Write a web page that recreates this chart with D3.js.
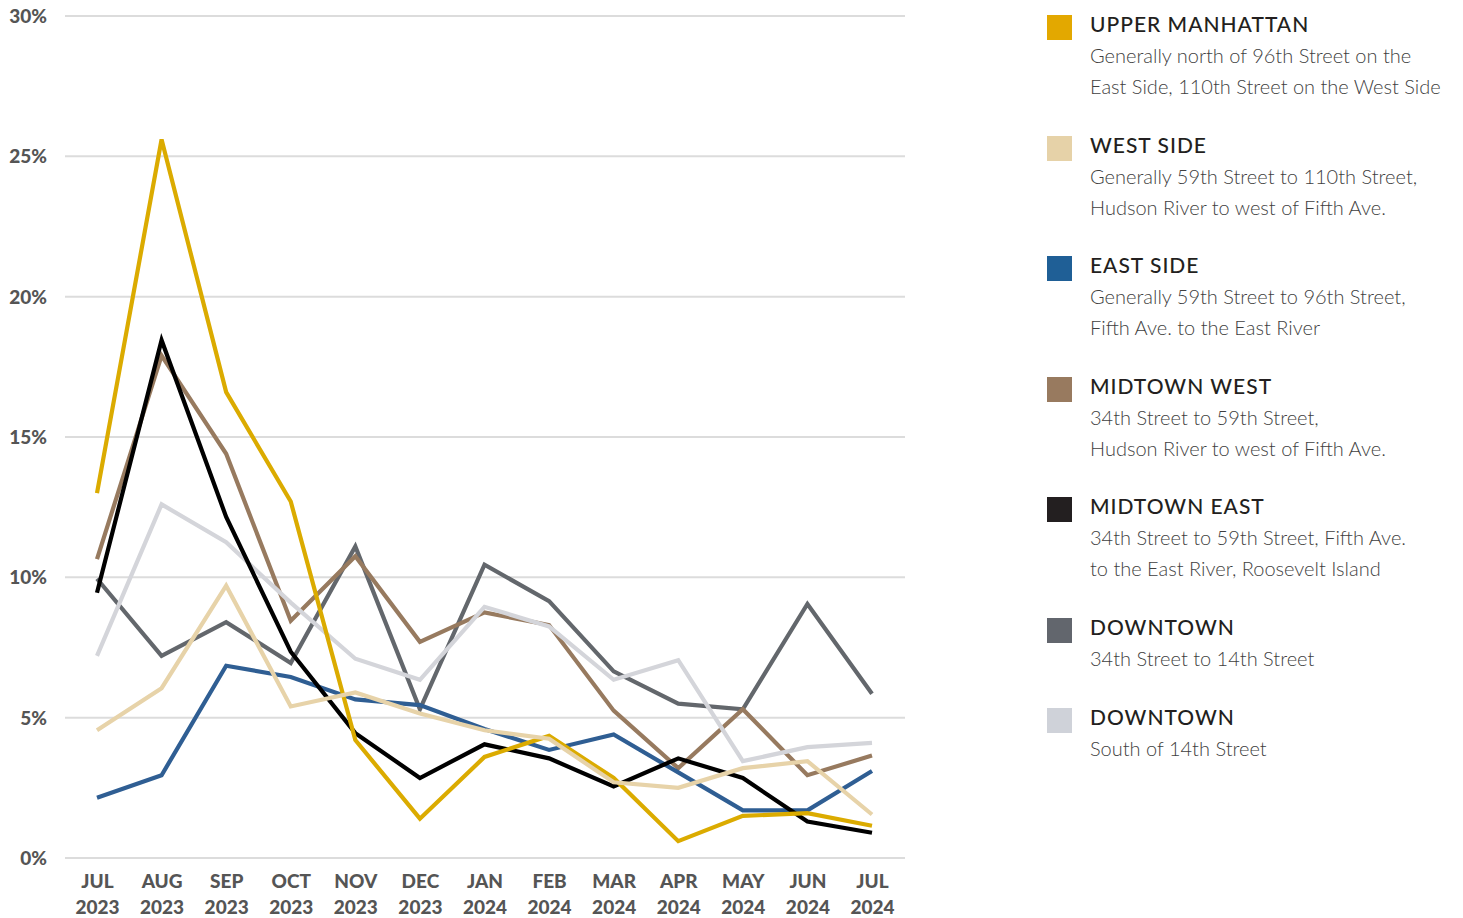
<!DOCTYPE html>
<html>
<head>
<meta charset="utf-8">
<script src="https://cdn.jsdelivr.net/npm/d3@7"></script>
<style>
  body { margin: 0; background: #fff; }
  svg { display: block; }
</style>
</head>
<body>
<script>
// months along the x axis
const months = ['JUL|2023', 'AUG|2023', 'SEP|2023', 'OCT|2023', 'NOV|2023', 'DEC|2023',
                'JAN|2024', 'FEB|2024', 'MAR|2024', 'APR|2024', 'MAY|2024', 'JUN|2024', 'JUL|2024'];

// y ticks (percent)
const yTicks = [0, 5, 10, 15, 20, 25, 30];

// series values (percent)
const upperManhattan = [13.0, 25.6, 16.6, 12.7, 4.2, 1.4, 3.6, 4.35, 2.85, 0.6, 1.5, 1.6, 1.15];
const westSide       = [4.55, 6.05, 9.7, 5.4, 5.9, 5.15, 4.55, 4.25, 2.7, 2.5, 3.2, 3.45, 1.55];
const eastSide       = [2.15, 2.95, 6.85, 6.45, 5.65, 5.45, 4.6, 3.85, 4.4, 3.05, 1.7, 1.7, 3.1];
const midtownWest    = [10.65, 17.9, 14.4, 8.45, 10.75, 7.7, 8.75, 8.3, 5.25, 3.2, 5.3, 2.95, 3.65];
const midtownEast    = [9.45, 18.45, 12.15, 7.35, 4.45, 2.85, 4.05, 3.55, 2.55, 3.55, 2.85, 1.3, 0.9];
const downtown       = [9.95, 7.2, 8.4, 6.95, 11.1, 5.3, 10.45, 9.15, 6.65, 5.5, 5.3, 9.05, 5.85];
const downtownSouth  = [7.2, 12.6, 11.25, 9.1, 7.1, 6.35, 8.95, 8.25, 6.35, 7.05, 3.45, 3.95, 4.1];

// legend entries
const legendTitles = ['UPPER MANHATTAN', 'WEST SIDE', 'EAST SIDE', 'MIDTOWN WEST', 'MIDTOWN EAST', 'DOWNTOWN', 'DOWNTOWN'];
const legendNotes = [
    ['Generally north of 96th Street on the', 'East Side, 110th Street on the West Side'],
    ['Generally 59th Street to 110th Street,', 'Hudson River to west of Fifth Ave.'],
    ['Generally 59th Street to 96th Street,', 'Fifth Ave. to the East River'],
    ['34th Street to 59th Street,', 'Hudson River to west of Fifth Ave.'],
    ['34th Street to 59th Street, Fifth Ave.', 'to the East River, Roosevelt Island'],
    ['34th Street to 14th Street'],
    ['South of 14th Street']
];

const lineColors = ['#dbab00', '#e7d3a9', '#2f5e93', '#977a5f', '#000000', '#63676c', '#d4d5da'];
const swatchColors = ['#e3a800', '#e6d2a8', '#1f5f96', '#987a5f', '#231f20', '#62666d', '#cfd2d9'];

// draw order: back to front
const series = [
    {name: 'downtown', values: downtown, color: lineColors[5]},
    {name: 'midtownWest', values: midtownWest, color: lineColors[3]},
    {name: 'downtownSouth', values: downtownSouth, color: lineColors[6]},
    {name: 'eastSide', values: eastSide, color: lineColors[2]},
    {name: 'midtownEast', values: midtownEast, color: lineColors[4]},
    {name: 'upperManhattan', values: upperManhattan, color: lineColors[0]},
    {name: 'westSide', values: westSide, color: lineColors[1]}
];

const svgWidth = 1463;
const svgHeight = 918;
const plotLeft = 65, plotRight = 905, plotTop = 16, plotBottom = 858;

const svg = d3.select('body')
              .append('svg')
              .attr('width', svgWidth)
              .attr('height', svgHeight);

const xScale = d3.scalePoint()
                 .domain(months)
                 .range([97, 872]);

const yScale = d3.scaleLinear()
                 .domain([0, 30])
                 .range([plotBottom, plotTop]);

// gridlines
svg.append('g')
   .selectAll('line')
   .data(yTicks)
   .enter()
   .append('line')
   .attr('x1', plotLeft)
   .attr('x2', plotRight)
   .attr('y1', d => yScale(d))
   .attr('y2', d => yScale(d))
   .attr('stroke', '#dcdcdc')
   .attr('stroke-width', 2);

// y axis labels
const yAxis = d3.axisLeft(yScale).tickValues(yTicks).tickFormat(d => d + '%').tickSize(0).tickPadding(0);
const yAxisG = svg.append('g')
                  .attr('transform', 'translate(47,0)')
                  .call(yAxis);
yAxisG.select('.domain').remove();
yAxisG.selectAll('text')
      .attr('dy', '0.35em')
      .style('font-family', 'Lato, sans-serif')
      .style('font-weight', 900)
      .style('font-size', '19px')
      .style('fill', '#555');

// x axis labels (two lines)
const xAxis = d3.axisBottom(xScale).tickSize(0).tickFormat('');
const xAxisG = svg.append('g')
                  .attr('transform', 'translate(0,' + plotBottom + ')')
                  .call(xAxis);
xAxisG.select('.domain').remove();
xAxisG.selectAll('.tick')
      .append('text')
      .attr('text-anchor', 'middle')
      .style('font-family', 'Lato, sans-serif')
      .style('font-weight', 900)
      .style('font-size', '19px')
      .style('fill', '#555')
      .selectAll('tspan')
      .data(d => d.split('|'))
      .enter()
      .append('tspan')
      .attr('x', 0)
      .attr('y', (d, i) => 30 + i * 26)
      .text(d => d);

// lines
const line = d3.line()
               .x((d, i) => xScale(months[i]))
               .y(d => yScale(d));

svg.append('g')
   .selectAll('path')
   .data(series)
   .enter()
   .append('path')
   .attr('d', d => line(d.values))
   .attr('fill', 'none')
   .attr('stroke', d => d.color)
   .attr('stroke-width', 4.2)
   .attr('stroke-linejoin', 'miter');

// legend
const legendTops = [15, 136, 256, 377, 497, 618, 708];
const legend = svg.append('g')
                  .selectAll('g')
                  .data(legendTitles)
                  .enter()
                  .append('g')
                  .attr('transform', (d, i) => 'translate(1047,' + legendTops[i] + ')');

legend.append('rect')
      .attr('width', 25)
      .attr('height', 25)
      .attr('fill', (d, i) => swatchColors[i]);

legend.append('text')
      .attr('x', 43)
      .attr('y', 17)
      .style('font-family', 'Lato, sans-serif')
      .style('font-weight', 500)
      .style('font-size', '21px')
      .style('letter-spacing', '1px')
      .style('fill', '#231f20')
      .text(d => d);

legend.each(function(d, i) {
    d3.select(this)
      .selectAll('.note')
      .data(legendNotes[i])
      .enter()
      .append('text')
      .attr('class', 'note')
      .attr('x', 43)
      .attr('y', (n, j) => 48 + j * 31)
      .style('font-family', 'Lato, sans-serif')
      .style('font-weight', 300)
      .style('font-size', '20px')
      .style('fill', '#3f3f3f')
      .text(n => n);
});
</script>
</body>
</html>
